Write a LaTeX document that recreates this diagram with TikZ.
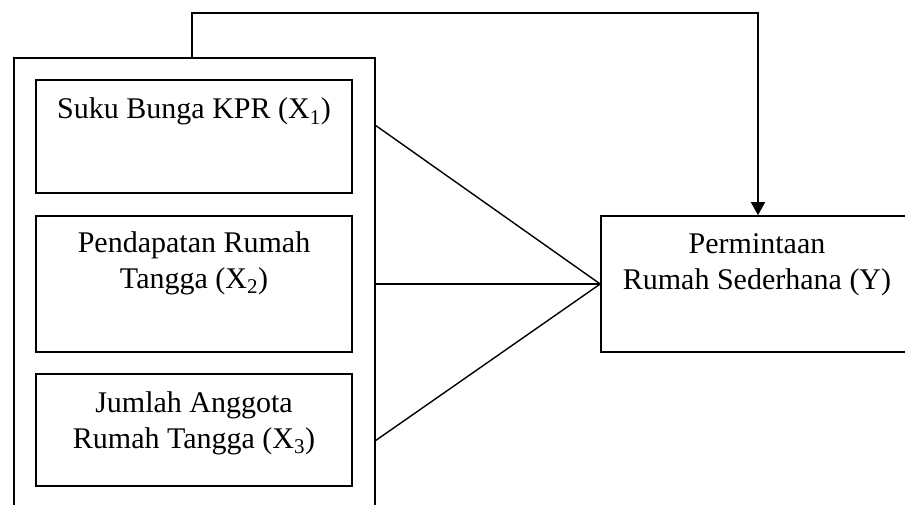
\documentclass[tikz,border=0pt]{standalone}
\usepackage{fontspec}
\setmainfont{Liberation Serif}
\usetikzlibrary{arrows.meta}
\begin{document}
\begin{tikzpicture}[x=1pt,y=-1pt,
  box/.style={draw, line width=1.6pt, rectangle, inner sep=0pt},
  txt/.style={anchor=base, inner sep=0pt, font=\fontsize{30}{34.5}\selectfont},
  link/.style={line width=1.4pt},
  arr/.style={line width=1.4pt, -{Triangle[width=14pt,length=13pt]}}]
\useasboundingbox (0,0) rectangle (905,505);
\clip (0,0) rectangle (905,505);
% outer frame (bottom cut off)
\node[box, minimum width=361pt, minimum height=462pt] (outer) at (194.5,289) {};
% inner boxes
\node[box, minimum width=316pt, minimum height=113pt] (x1) at (194,136.5) {};
\node[box, minimum width=316pt, minimum height=136pt] (x2) at (194,284) {};
\node[box, minimum width=316pt, minimum height=112pt] (x3) at (194,430) {};
% dependent variable (right side cut off)
\node[box, minimum width=314pt, minimum height=136pt] (y) at (758,284) {};
% texts
\node[txt] (t1) at (194,119) {Suku Bunga KPR (X\textsubscript{1})};
\node[txt] (t2a) at (194,253) {Pendapatan Rumah};
\node[txt] (t2b) at (194,288) {Tangga (X\textsubscript{2})};
\node[txt] (t3a) at (194,412) {Jumlah Anggota};
\node[txt] (t3b) at (194,448) {Rumah Tangga (X\textsubscript{3})};
\node[txt] (ty1) at (757,254) {Permintaan};
\node[txt] (ty2) at (757,289) {Rumah Sederhana (Y)};
% connectors
\coordinate (p1) at (375,125);
\coordinate (p2) at (375,284);
\coordinate (p3) at (375,441);
\coordinate (fb) at (192,58);
\draw[link] (p1) -- (y.west);
\draw[link] (p2) -- (y.west);
\draw[link] (p3) -- (y.west);
\draw[arr] (fb) -- ++(0,-45) -| (y.north);
\end{tikzpicture}
\end{document}
